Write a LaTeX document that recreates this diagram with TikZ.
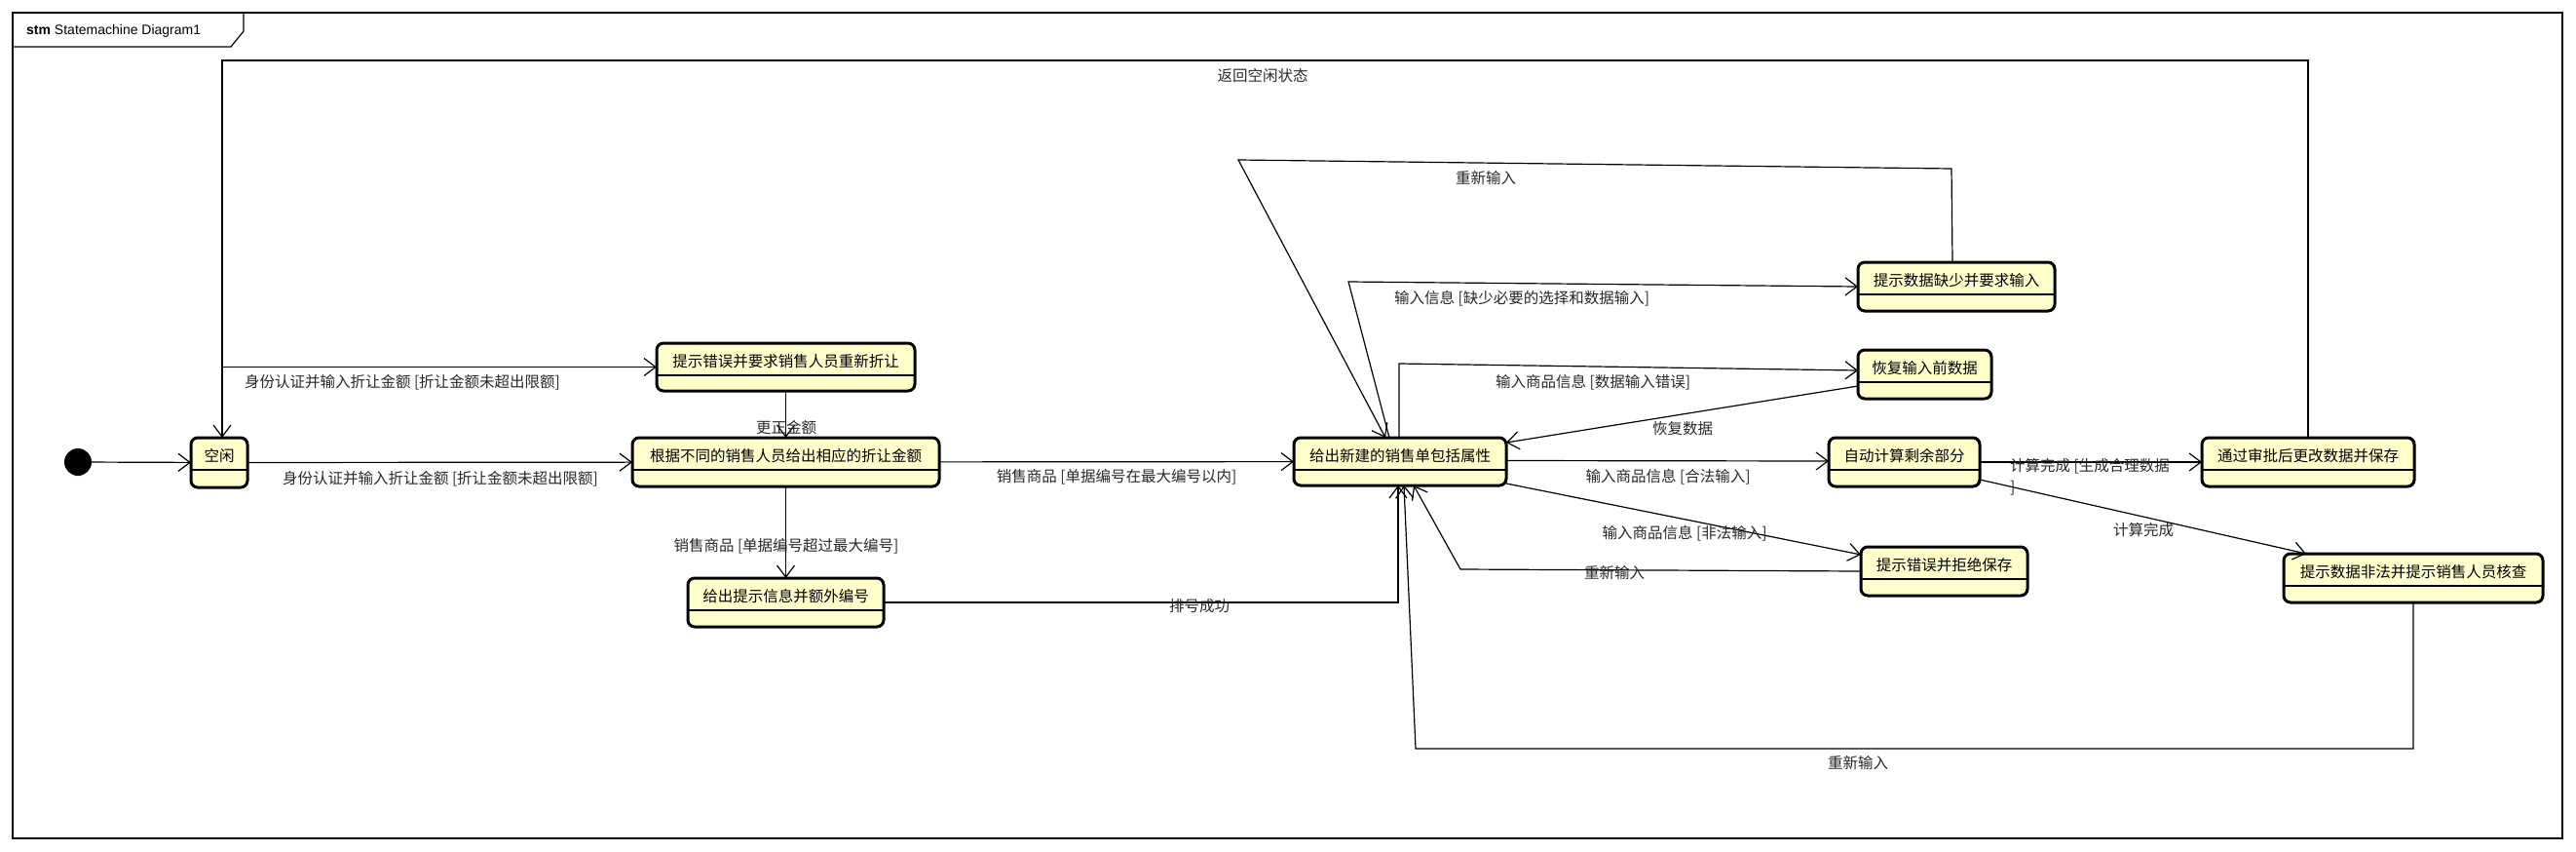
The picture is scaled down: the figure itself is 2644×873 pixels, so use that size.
\documentclass[tikz,border=0pt]{standalone}
\usepackage{fontspec}
\setmainfont{Liberation Sans}
\newfontfamily\cjk{Noto Sans CJK SC}
\usetikzlibrary{arrows.meta,fit,calc}
\definecolor{stfill}{RGB}{255,255,204}
\definecolor{lblgray}{RGB}{40,40,40}
\tikzset{
 stbox/.style={draw, line width=3pt, fill=stfill, rounded corners=7pt, inner sep=0pt, outer sep=0pt},
 sttext/.style={font=\cjk\fontsize{15.5}{18}\selectfont, inner sep=0pt, text=black},
 lbl/.style={font=\cjk\fontsize{15.5}{18}\selectfont, inner sep=0pt, text=lblgray},
 arr/.style={line width=1.2pt, line join=miter, -{Straight Barb[length=12pt,width=18pt]}},
}
\newcommand\umlstate[6]{%
 \node[stbox, fit={(#2,#3) (#4,#5)}] (#1) {};
 \draw[line width=1.5pt] ([yshift=-33pt]#1.north west) -- ([yshift=-33pt]#1.north east);
 \node[sttext] at ([yshift=-19pt]#1.north) {#6};
}
\begin{document}
\begin{tikzpicture}[x=1pt,y=-1pt]
\useasboundingbox (0,0) rectangle (2644,873);
% frame
\draw[line width=1.5pt] (13,13) rectangle (2630,860);
\draw[line width=1.2pt] (13,48) -- (237,48) -- (250,32) -- (250,13);
\node[anchor=west, inner sep=0pt, font=\fontsize{14}{16}\selectfont] (title) at (27,32) {\textbf{stm} Statemachine Diagram1};
% initial
\node[circle, fill=black, minimum size=28pt, inner sep=0pt] (init) at (80,474) {};
% states
\umlstate{idle}{196}{449}{254}{500}{空闲}
\umlstate{err1}{674}{352}{939}{401}{提示错误并要求销售人员重新折让}
\umlstate{calc}{649}{449}{964}{499}{根据不同的销售人员给出相应的折让金额}
\umlstate{extra}{706}{593}{907}{643}{给出提示信息并额外编号}
\umlstate{new}{1328}{449}{1546}{498}{给出新建的销售单包括属性}
\umlstate{miss}{1907}{269}{2109}{319}{提示数据缺少并要求输入}
\umlstate{restore}{1907}{359}{2044}{409}{恢复输入前数据}
\umlstate{auto}{1877}{449}{2032}{499}{自动计算剩余部分}
\umlstate{reject}{1910}{561}{2081}{611}{提示错误并拒绝保存}
\umlstate{save}{2260}{449}{2478}{499}{通过审批后更改数据并保存}
\umlstate{illegal}{2344}{568}{2610}{618}{提示数据非法并提示销售人员核查}
% coordinates
\coordinate (ret) at (228,62);
\coordinate (i1) at (1384,289);
\coordinate (j1) at (2003,173);
\coordinate (j2) at (1271,164);
\coordinate (k1) at (1436,373);
\coordinate (o1) at (1499,584);
\coordinate (r1) at (1453,768);
% connectors
\draw[arr] (init) -- (idle);
\draw[arr] (save.north) |- (ret) -- ([xshift=3pt]idle.north);
\draw[arr] (ret |- err1.west) -- (err1.west);
\draw[arr] (idle) -- (calc);
\draw[arr] (err1) -- (calc);
\draw[arr] (calc) -- (extra);
\draw[arr] (calc) -- (new);
\draw[arr] (extra.east) -| ([xshift=-2pt]new.south);
\draw[arr] ([xshift=-11pt]new.north) -- (i1) -- (miss.west);
\draw[arr] ([xshift=-4pt]miss.north) -- (j1) -- (j2) -- ([xshift=-15pt]new.north);
\draw[arr] ([xshift=-1pt]new.north) -- (k1) -- ([yshift=4pt]restore.west);
\draw[arr] ([yshift=-12pt]restore.west) -- ([yshift=-5pt]new.north east);
\draw[arr] ([yshift=1pt]new.east) -- ([yshift=1pt]auto.west);
\draw[arr] ([yshift=2pt]new.south east) -- ([yshift=-8pt]reject.north west);
\draw[arr] (reject.west) -- (o1) -- ([xshift=14pt]new.south);
\draw[arr] (auto) -- (save);
\draw[arr] ([yshift=7pt]auto.south east) -- ([xshift=23pt]illegal.north west);
\draw[arr] (illegal.south) |- (r1) -- ([xshift=4pt]new.south);
% labels
\node[lbl] (l1) at (1296,78) {返回空闲状态};
\node[lbl] (l2) at (1525,183) {重新输入};
\node[lbl] (l3) at (1562,306) {输入信息 [缺少必要的选择和数据输入]};
\node[lbl] (l4) at (413,392) {身份认证并输入折让金额 [折让金额未超出限额]};
\node[lbl] (l5) at (807,439) {更正金额};
\node[lbl] (l6) at (1635,392) {输入商品信息 [数据输入错误]};
\node[lbl] (l7) at (1727,440) {恢复数据};
\node[lbl] (l8) at (452,491) {身份认证并输入折让金额 [折让金额未超出限额]};
\node[lbl] (l9) at (1146,489) {销售商品 [单据编号在最大编号以内]};
\node[lbl] (l10) at (1712,489) {输入商品信息 [合法输入]};
\node[lbl, anchor=west] (l11) at (2063,478) {计算完成 [生成合理数据};
\node[lbl, anchor=west] (l11b) at (2063,501) {]};
\node[lbl] (l12) at (2200,544) {计算完成};
\node[lbl] (l13) at (1729,547) {输入商品信息 [非法输入]};
\node[lbl] (l14) at (807,560) {销售商品 [单据编号超过最大编号]};
\node[lbl] (l15) at (1657,588) {重新输入};
\node[lbl] (l16) at (1231,622) {排号成功};
\node[lbl] (l17) at (1907,783) {重新输入};
\end{tikzpicture}
\end{document}
